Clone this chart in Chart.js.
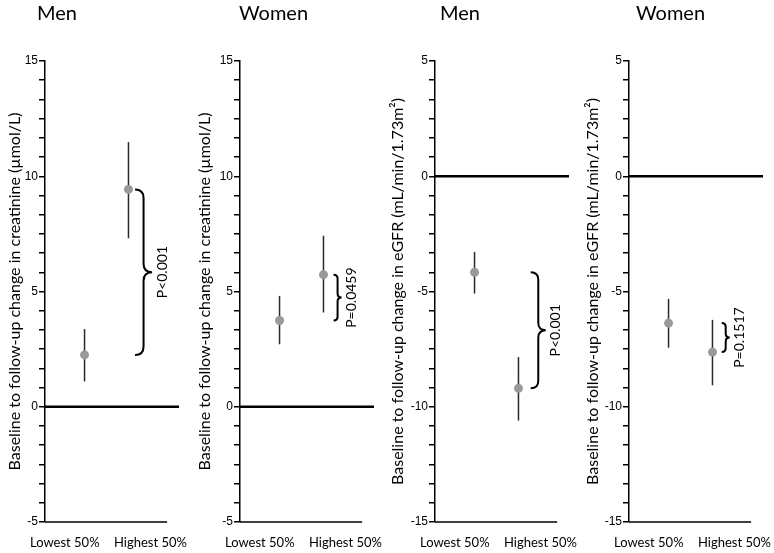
<!DOCTYPE html>
<html>
<head>
<meta charset="utf-8">
<script src="https://cdn.jsdelivr.net/npm/chart.js@4.4.1/dist/chart.umd.min.js"></script>
<style>
  html, body { margin: 0; padding: 0; background: #fff; overflow: hidden; }
  #wrap { position: relative; width: 774px; height: 553px; }
  #wrap canvas { position: absolute; top: 0; }
</style>
</head>
<body>
<div id="wrap"></div>
<script>
// Categories and tick labels
const categories = ["Lowest 50%", "Highest 50%"];
const creatTicks = [-5, 0, 5, 10, 15];
const egfrTicks = [-15, -10, -5, 0, 5];

// Creatinine change, men
const menCreatMean = [2.25, 9.43];
const menCreatLower = [1.1, 7.31];
const menCreatUpper = [3.37, 11.48];

// Creatinine change, women
const womenCreatMean = [3.74, 5.73];
const womenCreatLower = [2.71, 4.09];
const womenCreatUpper = [4.81, 7.42];

// eGFR change, men
const menEgfrMean = [-4.17, -9.2];
const menEgfrLower = [-5.09, -10.6];
const menEgfrUpper = [-3.28, -7.84];

// eGFR change, women
const womenEgfrMean = [-6.37, -7.63];
const womenEgfrLower = [-7.44, -9.07];
const womenEgfrUpper = [-5.32, -6.23];

const panelTitles = ["Men", "Women", "Men", "Women"];
const pValues = ["P<0.001", "P=0.0459", "P<0.001", "P=0.1517"];
const creatTitle = "Baseline to follow-up change in creatinine (µmol/L)";
const egfrTitle = "Baseline to follow-up change in eGFR (mL/min/1.73m²)";

// x scale: points sit at 1 and 2
const X_MIN = 0.1, X_MAX = 3.15, X_AXIS_END = 2.88;
const LABEL_POS = [0.55, 2.5];
const AREA_W = 134;
const PAD_RIGHT = 40;

const panels = [
    { axisX: 45, axisW: 40, titleDx: -8, mean: menCreatMean, lo: menCreatLower, hi: menCreatUpper,
      ticks: creatTicks, yTitle: creatTitle, brace: [2.15, 17] },
    { axisX: 240, axisW: 45, titleDx: -1, mean: womenCreatMean, lo: womenCreatLower, hi: womenCreatUpper,
      ticks: creatTicks, yTitle: creatTitle, brace: [2.23, 8] },
    { axisX: 435, axisW: 47, titleDx: 5, mean: menEgfrMean, lo: menEgfrLower, hi: menEgfrUpper,
      ticks: egfrTicks, yTitle: egfrTitle, brace: [2.28, 15] },
    { axisX: 629, axisW: 46, titleDx: 7, mean: womenEgfrMean, lo: womenEgfrLower, hi: womenEgfrUpper,
      ticks: egfrTicks, yTitle: egfrTitle, brace: [2.21, 8] },
];

// major ticks every 5, six minor steps between them
function buildTicks(majors) {
    const out = [];
    for (let i = 0; i < majors.length - 1; i++) {
        for (let k = 0; k < 6; k++) {
            out.push(majors[i] + (majors[i + 1] - majors[i]) * k / 6);
        }
    }
    out.push(majors[majors.length - 1]);
    return out;
}

// title, shortened bottom axis, brace and p-value text
const decor = {
    id: "decor",
    afterDatasetsDraw(chart, args, opts) {
        const { ctx, chartArea } = chart;
        const x = chart.scales.x, y = chart.scales.y;
        ctx.save();

        ctx.strokeStyle = "#000";
        ctx.lineWidth = 1.5;
        ctx.beginPath();
        ctx.moveTo(chartArea.left, chartArea.bottom);
        ctx.lineTo(x.getPixelForValue(X_AXIS_END), chartArea.bottom);
        ctx.stroke();

        ctx.fillStyle = "#000";
        ctx.font = "20px Lato";
        ctx.textAlign = "left";
        ctx.textBaseline = "alphabetic";
        ctx.fillText(opts.title, chartArea.left + opts.titleDx, 19.5);

        const yA = y.getPixelForValue(opts.mean[0]);
        const yB = y.getPixelForValue(opts.mean[1]);
        const top = Math.min(yA, yB), bot = Math.max(yA, yB);
        const mid = (top + bot) / 2;
        const x0 = x.getPixelForValue(opts.brace[0]);
        const x1 = x0 + opts.brace[1];
        const xm = (x0 + x1) / 2;
        const r = Math.min((x1 - x0) / 2, (bot - top) / 4);
        ctx.lineWidth = 2;
        ctx.beginPath();
        ctx.moveTo(x0, top);
        ctx.quadraticCurveTo(xm, top, xm, top + r);
        ctx.lineTo(xm, mid - r);
        ctx.quadraticCurveTo(xm, mid, x1, mid);
        ctx.quadraticCurveTo(xm, mid, xm, mid + r);
        ctx.lineTo(xm, bot - r);
        ctx.quadraticCurveTo(xm, bot, x0, bot);
        ctx.stroke();

        ctx.translate(x1 + 10, mid);
        ctx.rotate(-Math.PI / 2);
        ctx.font = "14px Lato";
        ctx.textAlign = "center";
        ctx.textBaseline = "middle";
        ctx.fillText(opts.p, 0, 0);
        ctx.restore();
    }
};

function createPanel(idx) {
    const p = panels[idx];
    const canvas = document.createElement("canvas");
    canvas.width = p.axisW + AREA_W + PAD_RIGHT;
    canvas.height = 553;
    canvas.style.left = (p.axisX - p.axisW) + "px";
    document.getElementById("wrap").appendChild(canvas);

    const datasets = [];
    datasets.push({
        data: [{ x: X_MIN, y: 0 }, { x: X_MAX, y: 0 }],
        showLine: true, borderColor: "#000", borderWidth: 2.5, pointRadius: 0, order: 3
    });
    for (let i = 0; i < categories.length; i++) {
        datasets.push({
            data: [{ x: i + 1, y: p.lo[i] }, { x: i + 1, y: p.hi[i] }],
            showLine: true, borderColor: "#2a2a2a", borderWidth: 1.5, pointRadius: 0, order: 2
        });
    }
    datasets.push({
        data: p.mean.map((v, i) => ({ x: i + 1, y: v })),
        pointRadius: 4.5, backgroundColor: "#999", borderWidth: 0, order: 1
    });

    const yTicks = buildTicks(p.ticks);

    new Chart(canvas.getContext("2d"), {
        type: "scatter",
        data: { datasets: datasets },
        plugins: [decor],
        options: {
            responsive: false,
            animation: false,
            layout: { padding: { top: 61, right: PAD_RIGHT, bottom: 0, left: 0 } },
            plugins: {
                legend: { display: false },
                tooltip: { enabled: false },
                decor: { title: panelTitles[idx], titleDx: p.titleDx, mean: p.mean, brace: p.brace, p: pValues[idx] }
            },
            scales: {
                x: {
                    type: "linear",
                    min: X_MIN,
                    max: X_MAX,
                    afterBuildTicks: (s) => { s.ticks = LABEL_POS.map(v => ({ value: v })); },
                    afterFit: (s) => { s.height = 31; },
                    ticks: {
                        autoSkip: false,
                        maxRotation: 0,
                        padding: 13,
                        color: "#000",
                        font: { family: "Lato", size: 13 },
                        callback: (v, i) => categories[i]
                    },
                    grid: { display: false, drawTicks: false },
                    border: { display: false }
                },
                y: {
                    min: p.ticks[0],
                    max: p.ticks[p.ticks.length - 1],
                    afterBuildTicks: (s) => { s.ticks = yTicks.map(v => ({ value: v })); },
                    afterFit: (s) => { s.width = p.axisW; },
                    ticks: {
                        autoSkip: false,
                        padding: 1,
                        color: "#000",
                        font: { family: "Liberation Sans", size: 12 },
                        callback: (v, i) => (i % 6 === 0 ? String(p.ticks[i / 6]) : "")
                    },
                    grid: { drawOnChartArea: false, drawTicks: true, tickLength: 6, color: "#000", lineWidth: 1.5 },
                    border: { display: true, color: "#000", width: 1.5 },
                    title: {
                        display: true,
                        text: p.yTitle,
                        color: "#000",
                        padding: 0,
                        font: { family: "Lato", size: 16 }
                    }
                }
            }
        }
    });
}

for (let i = 0; i < panels.length; i++) createPanel(i);
</script>
</body>
</html>
